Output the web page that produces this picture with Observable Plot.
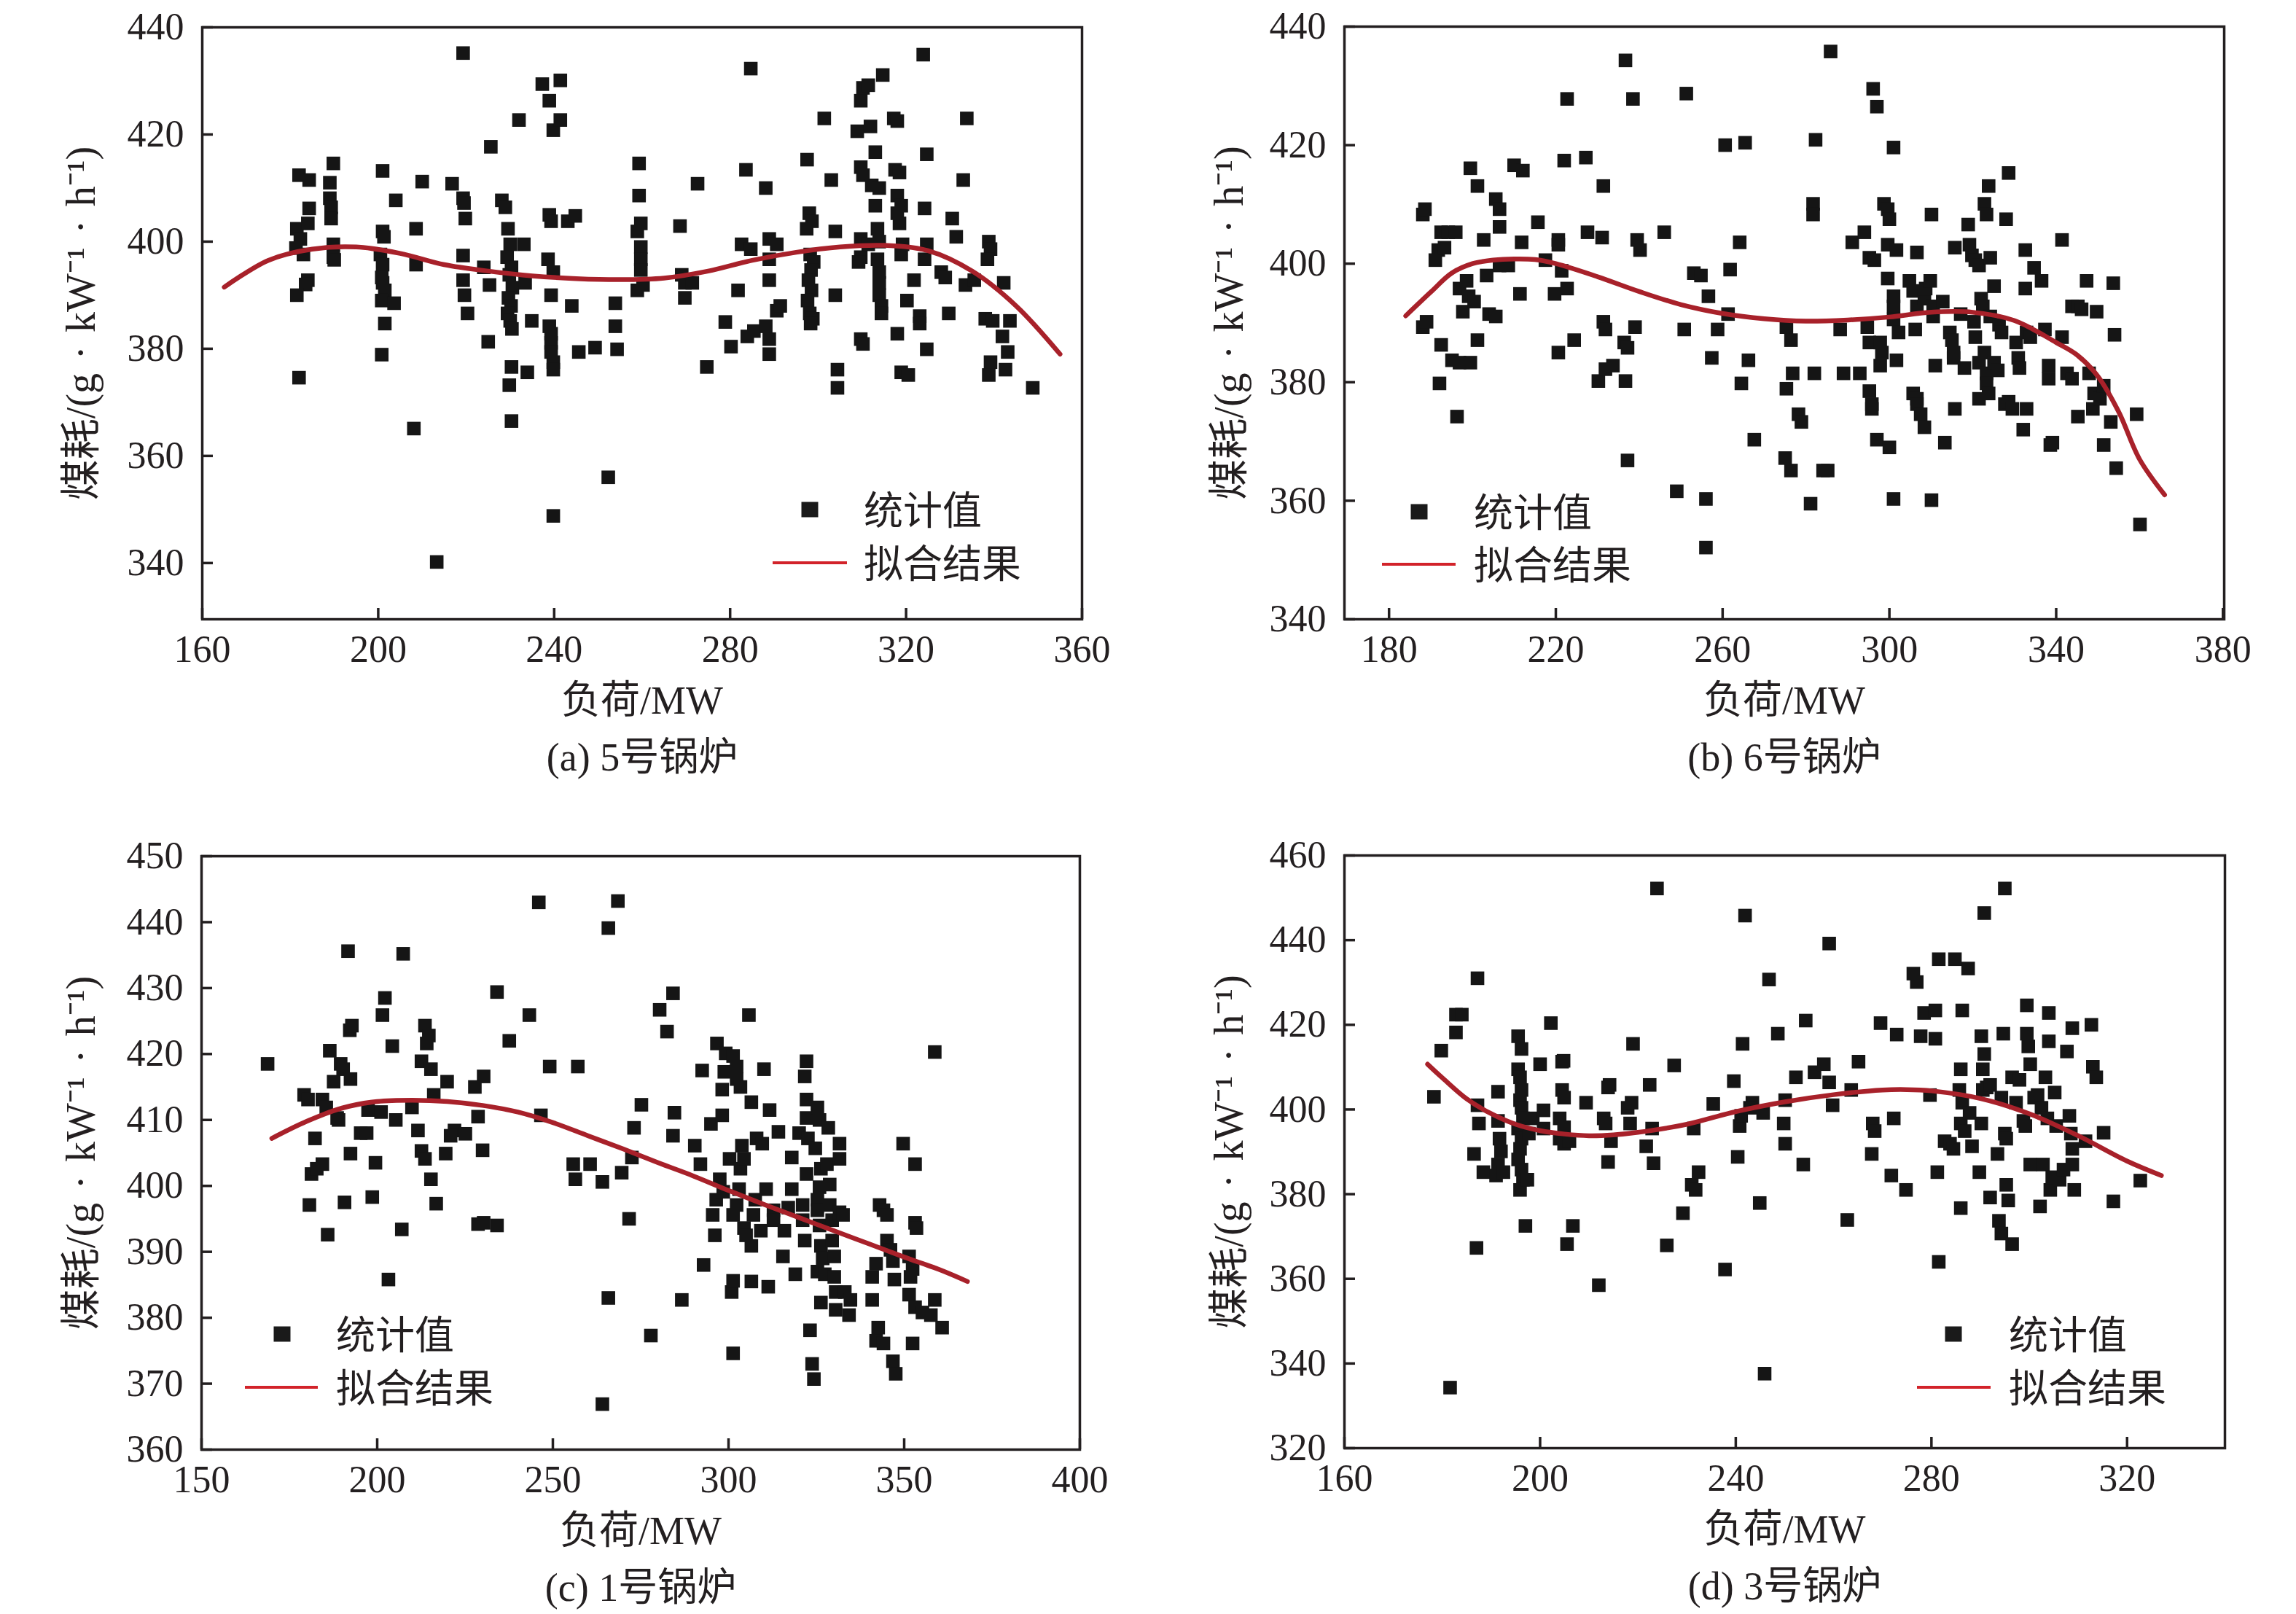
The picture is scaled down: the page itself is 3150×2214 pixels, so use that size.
<!DOCTYPE html>
<html><head><meta charset="utf-8">
<script src="https://cdn.jsdelivr.net/npm/d3@7"></script>
<script src="https://cdn.jsdelivr.net/npm/@observablehq/plot@0.6"></script>
<style>
html,body{margin:0;padding:0;background:#fff;}
#page{position:relative;width:3150px;height:2214px;background:#fff;overflow:hidden;color:#231f20;font-family:"Liberation Serif","Noto Sans CJK SC",serif;}
.panel{position:absolute;width:1575px;height:1107px;}
.panel svg text{font-family:"Liberation Serif","Noto Sans CJK SC",serif !important;}
.lg-sq{position:absolute;width:23px;height:21px;background:#1a1a1a;transform:translate(-50%,-50%);}
.lg-line{position:absolute;height:4px;background:#d2232a;transform:translateY(-50%);}
.lg-txt{position:absolute;font-family:"Noto Sans CJK SC",sans-serif;font-size:54px;line-height:1;white-space:nowrap;transform:translateY(-50%);color:#231f20;}
</style></head><body><div id="page"></div>
<script>
// ---------- data: (load MW, coal consumption g/kWh) ----------
const pointsA = [[182,412.4],[184.3,411.5],[181.5,402.4],[182.3,400.5],[181.3,398.8],[183,397.6],[184.3,406.2],[184,403.4],[184,392.8],[183.5,392],[181.5,390],[182,374.6],
[189.8,414.6],[189,411],[189,408.1],[189.3,406.4],[189.3,404.3],[189.8,399.5],[189.8,397.1],[190,396.6],
[201,413.2],[201,401.9],[201.3,400.9],[200.5,397.6],[201,395.7],[200.8,393.3],[201,392.3],[201.5,390.9],[200.8,389],[201.5,384.7],[200.8,378.9],
[203.6,388.5],[204,407.7],[208.6,402.4],[208.6,395.7],[208.1,365.1],[210,411.2],[213.3,340.2],
[216.8,410.8],[219.3,435.2],[219.3,408.1],[219.5,407.2],[219.8,404.3],[219.3,397.4],[219.3,392.8],[219.6,390],[220.3,386.6],[224,395.2],[225.3,391.9],[225,381.3],[225.6,417.7],[228.1,407.7],[228.9,406.4],
[229.5,402.4],[230,399.5],[229.3,397.1],[230.3,395.2],[229.8,393.8],[230.5,391.4],[229.6,389.5],[230.2,388],[229.4,386.6],[230,385.2],[230.4,383.7],[230.3,376.6],[229.8,373.2],[230.3,366.5],
[232,422.7],[233.1,399.5],[233.4,392.3],[233.9,375.6],[234.9,385.2],
[237.3,429.4],[238.9,426.3],[239.8,420.8],[241.4,430.1],[241.4,422.7],[238.9,405],[239.3,403.8],[238.6,396.7],[239.8,394.3],[239.3,390],[238.9,384.2],[239.3,382.8],[239.3,381.1],[239.3,379.4],[239.8,377.5],[239.8,376.1],[239.8,348.8],[243.1,403.8],[244.8,404.8],[244,388],[245.6,379.4],[249.3,380.2],
[252.3,356],[253.9,388.5],[253.9,384.2],[254.3,379.9],
[259.3,414.6],[259.3,408.6],[259.7,403.4],[258.9,401.9],[259.7,399],[259.7,396.7],[259.7,394.7],[258.9,390.9],[260.2,391.9],
[268.6,402.9],[269,393.8],[269.7,392.3],[269.7,389.5],[271.4,392.3],[272.6,410.8],[274.7,376.6],[278.9,385],[280.2,380.4],[281.8,390.9],[283.6,413.4],[282.6,399.5],[284.7,398.6],[284.7,432.3],[283.9,382.3],[285.4,383.3],[288.1,410],[288.9,400.5],[288.9,392.8],[288.9,396.7],[288.1,384.2],[288.9,381.8],[288.9,379],[290.6,387.1],[291.4,388],[290.6,399.5],
[297.5,415.3],[298,405.3],[298.6,403.8],[297.4,402.4],[298.2,397.6],[299,396.2],[298.4,394.7],[297.8,392.8],[298.5,390.9],[297.6,389],[298.1,386.6],[298.8,385.6],[298.3,384.7],
[301.4,423],[303,411.5],[303.9,401.9],[303.9,390],[304.4,376.1],[304.4,372.7],
[308.9,420.6],[309.7,426.3],[310.2,428.7],[311.4,429.2],[311.9,421.5],[314.7,431.1],[309.7,413.9],[310.2,412.4],[312.2,410.5],[313,416.7],[313.9,410],[313,406.7],[309.7,400.5],[309.7,397.1],[311.4,399.5],[313.5,402.4],[313.9,400],[313.5,396.7],[313.9,394.3],[313.9,392.3],[313.9,390],[314.4,388],[314.4,386.6],[309.7,381.8],[310.2,380.9],[309.2,396.2],
[317.2,423],[318,422.5],[317.5,413.4],[318.5,412.9],[318,408.6],[318.9,406.7],[318,405.3],[318.5,403.4],[319.2,399.5],[318.9,397.6],[318,382.8],[318.9,375.6],[320.5,375.1],[320.2,389],[321.8,392.8],[323.1,386.1],[323.1,384.7],[323.9,434.9],[324.2,406.2],[324.7,399.5],[324.2,396.7],[324.7,416.3],[324.7,379.9],[328,394.3],[328.9,393.3],
[329.7,386.6],[330.5,404.3],[331.4,400.9],[333.8,423],[333,411.5],[333.5,391.9],[335.5,392.8],
[338.8,400],[339.2,398.6],[338.5,396.7],[338,385.6],[339.7,385.2],[339.2,377.5],[338.8,375.1],[342.2,392.3],[341.9,382.3],[343.1,379.4],[342.6,376.1],[343.6,385.2],[348.8,372.7]];
const fitLoadA = [165,175,185,195,205,215,225,235,245,255,265,275,285,295,305,315,325,335,345,355];
const fitCoalA = [391.5,396.5,398.6,399,397.8,395.7,394.5,393.6,393.1,392.9,393.2,394.5,396.5,398,399,399.3,398.3,394.5,388,379];

const pointsB = [[188.1,408.3],[188.6,409.2],[188.1,389.3],[189,390.2],[191.1,400.6],[191.8,402.3],[192.5,405.3],[194.2,405.3],[193.3,402.7],[192.5,386.3],[192.1,379.8],[196,405.3],[195.1,383.7],[196.9,383.3],[199.5,383.3],[196.3,374.2],[196.9,395.8],[198.6,397.1],[199.1,394.5],[197.7,391.9],[200.4,393.6],[199.5,416.1],[201.2,413.1],[201.2,387.1],[202.7,404],[203.4,398],[204,391.5],[205.6,391.1],[205.6,410.9],[206.5,409.2],[206.5,406.2],[206.5,399.7],[208.6,399.7],[210,416.6],[212.1,415.7],[211.8,403.6],[211.4,394.9],[215.7,407],[217.5,400.6],[220.6,404],[220.6,403.2],[221.4,398.8],[222,417.4],[219.7,394.9],[222.7,395.8],[222.7,427.8],[220.6,385],[224.4,387.1],[227.2,417.9],[227.6,405.3],[231.1,404.4],[231.4,413.1],[231.4,390.2],[231.9,388.9],[230.2,380.2],[231.9,382.2],[233.7,382.8],[236.7,434.3],[238.5,427.8],[236.4,386.7],[237.2,385.8],[236.7,380.2],[237.2,366.8],[239.5,404],[240.2,402.3],[239,389.3],[246,405.3],[251.3,428.7],[250.8,388.9],[249,361.6],[253.1,398.4],[254.8,398],[256,360.3],[256,352.1],[256.6,394.5],[257.4,384.1],[258.8,388.9],[260.6,420],[261.3,391.5],[261.8,399],[264.5,379.8],[264.1,403.6],[265.4,420.4],[266.2,383.7],[267.6,370.3],[275.3,389.3],[276.4,387.1],[275.3,378.9],[275,367.2],[276.4,365.1],[276.8,381.5],[278.2,374.6],[278.9,373.3],[281.1,359.5],[282,381.5],[282.3,420.9],[281.7,410.1],[281.7,408.3],[284.1,365.1],[285.2,365.1],[285.9,435.8],[288.2,388.9],[289,381.5],[291.1,403.6],[292.9,381.5],[294,405.3],[294.7,389.3],[295.2,386.7],[295.2,378.5],[295.8,376.3],[295.8,375.5],[295.2,401],[296.4,400.6],[296.1,429.5],[297,426.5],[297,370.3],[297.8,386.7],[298.2,385],[297.8,382.8],[298.7,410.1],[299.6,409.2],[300,407.5],[299.6,403.2],[300,369],[301,419.6],[301,360.3],[301,392.8],[301,390.6],[301.7,383.7],[302.2,388.4],[301.7,402.3],[299.6,397.5],[301,394.5],[304.8,397.1],[305.7,395.4],[305.7,378.1],[306.6,377.2],[306.6,376.3],[307.5,374.6],[308.4,372.4],[306.2,388.9],[306.6,392.8],[306.6,401.9],[308.4,394.1],[308.7,395.8],[309.8,397.1],[310.1,408.3],[310.5,392.8],[310.5,391.1],[311,382.8],[312.8,393.6],[313.3,369.8],[310.1,360.1],[314.5,388.4],[315,387.1],[315.4,385],[315.4,384.1],[315.7,375.5],[315.7,402.7],[317.1,391.5],[318,382.4],[318.9,406.6],[319.2,403.2],[319.8,401.4],[320.6,400.6],[321.5,399.7],[320.3,390.2],[320.6,387.6],[321.5,383.3],[321.5,377.2],[322,394.1],[322.4,392.8],[322.8,385],[323.3,381.5],[323.3,379.8],[323.8,378.1],[324.2,391.1],[322.8,410.1],[323.3,408.3],[323.8,413.1],[325.1,396.2],[324.2,401],[325.1,383.3],[326,382],[326.3,389.7],[326.9,388.4],[327.7,376.3],[328,407.5],[328.6,415.3],[328.6,376.7],[329.5,375.5],[330.4,386.7],[330.9,384.1],[331.2,382.4],[332.1,372],[332.6,402.3],[332.9,375.5],[332.6,395.8],[332.9,388.4],[333.8,387.6],[334.7,399.3],[336.5,397.1],[337.3,388.9],[338.2,382.8],[338.2,380.6],[338.6,369.4],[339.1,369.8],[341.4,404],[341.4,387.6],[342.6,381.5],[343.8,380.6],[343.8,392.8],[345.2,392.8],[346.1,392.3],[345.2,374.2],[347.3,397.1],[347.9,381.5],[348.8,375.5],[349.1,378.1],[349.7,391.9],[350.5,377.2],[351.4,369.4],[351.4,379.4],[353.1,373.3],[353.7,396.7],[354,388],[354.4,365.5],[359.3,374.6],[360.1,356]];
const fitLoadB = [184,190,195,200,205,210,215,220,230,240,250,260,270,280,290,300,310,320,330,340,345,350,355,360,366];
const fitCoalB = [391.2,395.2,398.4,400,400.6,400.8,400.7,400,397.8,395.3,393.1,391.6,390.7,390.3,390.5,391,391.8,391.8,390.4,386.7,384.6,381,375,367,361];

const pointsC = [[168.8,418.5],[179.2,413.8],[180.3,413.1],[184.4,413.1],[185.5,411.9],[182.3,407.2],[181.3,401.8],[182.8,402.6],[184.4,403.3],[180.7,397.1],[186.5,420.5],[187.6,415.8],[188.6,410.3],[189,410],[189.6,418.5],[190.3,417.7],[192.4,416.2],[192.2,423.6],[192.8,424.3],[191.7,435.6],[192.4,404.9],[190.7,397.5],[185.9,392.6],[195.3,408],[197,408],[197.4,411.5],[199.5,403.5],[198.6,398.3],[201.1,411.2],[202.2,428.5],[201.5,425.9],[204.3,421.2],[205.3,410],[207,393.4],[203.2,385.8],[207.4,435.2],[209.9,411.9],[211.6,408.4],[212.6,418.9],[213.6,424.3],[214.7,422.8],[214.1,421.6],[215.3,417.7],[212.6,405.3],[213.6,404.1],[215.3,401],[216.1,413.8],[216.8,397.3],[219.9,415.8],[219.5,404.9],[222,408.4],[220.9,407.6],[225.1,407.9],[227.8,415],[230.3,416.6],[228.7,410.5],[230,405.4],[228.7,394.2],[230.3,394.4],[234.1,394],[234.1,429.4],[237.6,422],[243.3,425.9],[246,443],[246.6,410.7],[249.1,418.1],[257.1,418.1],[255.8,403.3],[256.4,401],[260.6,403.3],[264.1,400.6],[265.8,439.1],[265.8,383],[268.5,443.2],[264.1,366.9],[269.6,402],[271.7,395],[272.5,404.3],[273.1,408.8],[275.2,412.3],[277.9,377.3],[280.4,426.7],[282.5,423.4],[284.2,429.2],[284.6,411.1],[284.2,407.6],[286.7,382.7],[290.4,406.1],[292.9,388],[292.5,417.5],[292,403.3],[295,409.4],[296.7,421.6],[298.2,410.7],[298.2,414.6],[298.8,417.3],[299.2,420.1],[301.3,419.7],[302.3,418.1],[302.3,416.2],[303.4,415],[295.5,395.6],[296.1,392.5],[296.5,397.9],[297.5,401],[298.5,399.1],[300.3,404.1],[300.9,383.9],[301.3,385.6],[301.3,374.6],[301.3,395.6],[302.3,397.1],[303,399.5],[303.4,402.6],[303.8,406.1],[304.4,404.1],[304.4,393.6],[305,392.5],[305.8,425.9],[306.5,412.7],[306.5,385.5],[306.5,390.9],[307.1,395.6],[307.6,397.9],[308,407.2],[309.6,406.4],[309.2,393.2],[310.7,399.5],[311.3,384.7],[310.1,417.7],[311.7,411.5],[312.8,396.3],[312.8,394.8],[314.2,408.2],[315.5,389.3],[315.9,393.2],[317,396.7],[318,399.5],[318,404.3],[319,386.6],[320.1,408],[321.1,397.1],[321.1,394.8],[321.7,391.7],[322.2,418.9],[321.7,416.6],[322.2,413.1],[322.2,410.3],[322.6,407.2],[322.2,401.8],[323.2,378.1],[323.8,373],[324.3,370.7],[325.3,411.9],[325.9,410],[324.7,405.7],[326.3,402.6],[325.9,399.8],[325.3,397.9],[325.3,396.3],[325.9,394],[326.3,390.9],[326.8,389],[325.3,387],[327.4,386.6],[328.4,408.8],[328,403.3],[328.8,400.2],[328.8,397.1],[329.5,394.8],[329.5,391.7],[330.1,389.3],[330.1,386.2],[330.5,383.9],[331.6,406.4],[331.6,404.1],[331.6,396],[332.6,395.6],[326.3,382.3],[330.5,381.2],[333.1,383.9],[334.3,380.4],[334.7,382.7],[340.9,382.7],[340.9,386.2],[342,388.2],[342,376.5],[344.1,376.1],[342.6,378.5],[343,397.1],[344.1,396.3],[345.1,395.6],[345.1,391.7],[346.1,390.3],[346.8,388.6],[347.2,385.8],[346.8,373.4],[347.6,371.5],[349.7,406.4],[351.4,389.3],[351.4,383.5],[351.8,386.2],[352.4,387.4],[353.1,394.4],[353.5,393.6],[353.1,403.3],[352.4,376.1],[353.1,381.6],[355.2,380.8],[357.6,380.4],[358.7,382.7],[358.7,420.3],[360.8,378.5]];
const fitLoadC = [170,180,190,200,210,220,230,240,250,260,270,280,290,300,310,320,330,340,350,360,368];
const fitCoalC = [407.2,409.8,411.8,412.8,413,412.8,412.2,411.2,409.6,407.6,405.6,403.5,401.5,399.3,397.2,395.2,393.2,391.2,389.2,387.3,385.5];

const pointsD = [[178.3,403],[179.8,413.9],[181.6,334.3],[182.8,422.4],[184,422.4],[182.8,418.2],[186.5,389.5],[187,367.3],[187.2,431],[187.2,401],[187.5,396.7],[188.4,385.2],[191.4,404.2],[191.4,397.3],[191.7,393.1],[192,390.1],[191.4,387],[191,384.4],[192.5,385.2],[195.5,417.3],[196.2,414.3],[195.5,409.5],[195.9,407.6],[196.2,404.6],[195.9,402.2],[196.2,400.4],[196.5,397.9],[195.5,395.5],[196.2,393.1],[195.9,390.7],[195.5,388.2],[196.2,385.8],[196.5,383.4],[195.9,381],[197.4,383.4],[197,372.5],[197.7,394.3],[198.5,397.9],[200.7,399.8],[200,410.7],[200.7,395.5],[202.2,420.4],[204.5,411.3],[204.8,411.5],[204.5,404.6],[204.9,402.8],[204,397.9],[204.9,395.8],[204,393.1],[204.9,391.9],[206,392.5],[205.5,368.2],[206.7,372.5],[209.4,401.6],[212,358.5],[213,397.9],[213.4,396.7],[214.2,405.8],[213.9,405.2],[214.5,392.5],[213.9,387.6],[217.9,400.4],[218.4,396.7],[219,415.5],[218.7,401.6],[221.7,391.3],[222.9,395.5],[223.2,387.3],[222.4,405.8],[223.9,452.2],[225.9,367.9],[227.4,410.4],[229.2,375.5],[231.4,395.5],[231,382.2],[231.8,381],[232.4,385.2],[235.4,401.3],[237.8,362.2],[239.6,406.7],[240.4,388.8],[240.8,396.1],[241.1,398.5],[241.4,415.5],[241.9,445.8],[243.4,401.6],[242.9,400.4],[244.9,377.9],[245.9,337.6],[246.8,430.7],[245.6,399.2],[248.6,417.9],[249.8,396.7],[250.1,391.9],[250.1,402.2],[252.3,407.6],[253.8,387],[254.3,421],[256.1,408.8],[258,410.7],[259.1,406.4],[259.1,439.2],[259.8,401],[262.8,373.9],[263.6,404.6],[265.1,411.3],[268,396.7],[268.4,394.9],[267.8,389.5],[269.6,420.4],[271.8,384.4],[272.3,397.9],[272.9,417.7],[274.8,381],[276.3,432.1],[277,430.1],[277.8,417.3],[278.5,422.8],[279.7,403.4],[280.8,423.4],[280.8,416.7],[281.5,435.5],[281.2,385.2],[281.5,364],[282.7,392.5],[283.8,391.9],[284.5,390.7],[284.8,435.5],[285.7,404.6],[286,409.5],[286.3,401.6],[286,396.7],[286.8,394.9],[286,376.7],[286.3,423.4],[287.5,433.3],[287.8,399.2],[288.3,391.3],[289.8,385.2],[290.2,396.7],[290.5,404.6],[290.5,409.5],[290.2,417.3],[290.8,413.1],[290.8,446.4],[291.3,405.2],[292,405.8],[292,379.2],[293.5,389.5],[293.8,373.7],[294.3,370.7],[294.7,417.9],[295,452.2],[294.3,402.8],[295,394.3],[295.3,393.1],[295.7,378.5],[295.3,382.2],[296.5,368.2],[296.5,407.6],[298,407],[297.3,401.6],[298.8,397.3],[299.2,396.1],[299.5,424.6],[299.5,417.9],[299.8,414.9],[300.2,410.7],[301,402.8],[300.2,387],[301.7,403.4],[302.2,377.1],[302.8,387],[302.5,400.4],[303.7,397.9],[303.3,407.6],[304,416.1],[304,422.8],[304.3,381],[304.7,384],[305.2,404],[305.5,396.1],[306.2,383.4],[307,385.8],[307.7,413.7],[308.2,398.5],[308.5,394.3],[308.8,390.7],[308.8,387],[309.2,381],[308.8,419.2],[311.5,392.5],[312.7,420],[313,410.1],[313.7,407.6],[315.2,394.5],[317.2,378.3],[322.7,383.2]];
const fitLoadD = [177,180,185,190,195,200,205,210,215,220,230,240,250,260,270,275,280,290,300,310,320,327];
const fitCoalD = [410.7,407.5,402.5,399,396.5,395,394.2,393.8,394,394.6,396.5,399.5,401.8,403.5,404.6,404.7,404.4,402.6,399,393.8,387.8,384.4];

const ticksX_A = [160,200,240,280,320,360];
const ticksY_A = [340,360,380,400,420,440];
const ticksX_B = [180,220,260,300,340,380];
const ticksY_B = [340,360,380,400,420,440];
const ticksX_C = [150,200,250,300,350,400];
const ticksY_C = [360,370,380,390,400,410,420,430,440,450];
const ticksX_D = [160,200,240,280,320];
const ticksY_D = [320,340,360,380,400,420,440,460];

const captions = ["(a) 5号锅炉","(b) 6号锅炉","(c) 1号锅炉","(d) 3号锅炉"];
const xLabel = "负荷/MW";
const yLabel = "煤耗/(g\u2004·\u2004kW\u207B\u00B9\u2004·\u2004h\u207B\u00B9)";
const legendLabels = ["统计值","拟合结果"];

// ---------- layout ----------
const FONT = '"Liberation Serif","Noto Sans CJK SC",serif';
const INK = "#231f20";
const panels = [
  {left:0, top:0, m:{top:37,right:91,bottom:258,left:277}, xd:[160,360], yd:[329.5,440], xt:ticksX_A, yt:ticksY_A, pts:pointsA, fx:fitLoadA, fy:fitCoalA, cap:captions[0],
   lg:{sq:[1111,699], tx:1185, line:[1060,1162,772]}},
  {left:1575, top:0, m:{top:36,right:99,bottom:258,left:269}, xd:[169.3,380.3], yd:[340,440], xt:ticksX_B, yt:ticksY_B, pts:pointsB, fx:fitLoadB, fy:fitCoalB, cap:captions[1],
   lg:{sq:[1947,702], tx:2022, line:[1896,1997,774]}},
  {left:0, top:1107, m:{top:67,right:94,bottom:226,left:276}, xd:[150,400], yd:[360,450], xt:ticksX_C, yt:ticksY_C, pts:pointsC, fx:fitLoadC, fy:fitCoalC, cap:captions[2],
   lg:{sq:[387,1830], tx:461, line:[336,436,1903]}},
  {left:1575, top:1107, m:{top:66,right:98,bottom:228,left:269}, xd:[160,340], yd:[320,460], xt:ticksX_D, yt:ticksY_D, pts:pointsD, fx:fitLoadD, fy:fitCoalD, cap:captions[3],
   lg:{sq:[2680,1830], tx:2756, line:[2630,2731,1903]}}
];

const page = document.getElementById("page");
for (const p of panels) {
  const fit = p.fx.map((x, i) => ({x, y: p.fy[i]}));
  const chart = Plot.plot({
    width: 1575, height: 1107,
    marginTop: p.m.top, marginRight: p.m.right, marginBottom: p.m.bottom, marginLeft: p.m.left,
    style: {fontFamily: FONT, color: INK, background: "transparent", overflow: "visible"},
    x: {domain: p.xd},
    y: {domain: p.yd},
    marks: [
      Plot.dot(p.pts, {x: d => d[0], y: d => d[1], symbol: "square", r: 10.5, fill: "#151515", stroke: "none"}),
      Plot.line(fit, {x: "x", y: "y", curve: "catmull-rom", stroke: "#a8212a", strokeWidth: 6.5}),
      Plot.frame({stroke: INK, strokeWidth: 3.5}),
      Plot.axisX({ticks: p.xt, tickFormat: d => String(d), tickSize: -15, tickPadding: 37, strokeWidth: 3.5, fontSize: 52, fontFamily: FONT, label: null, fill: INK}),
      Plot.axisY({ticks: p.yt, tickFormat: d => String(d), tickSize: -15, tickPadding: 40, strokeWidth: 3.5, fontSize: 52, fontFamily: FONT, label: null, fill: INK}),
      Plot.text([xLabel], {text: d => d, frameAnchor: "bottom", dy: 112, fontSize: 54, fontFamily: FONT, lineAnchor: "middle", fill: INK}),
      Plot.text([p.cap], {text: d => d, frameAnchor: "bottom", dy: 190, fontSize: 54, fontFamily: FONT, lineAnchor: "middle", fill: INK}),
      Plot.text([yLabel], {text: d => d, frameAnchor: "left", dx: 112 - p.m.left, dy: 0, rotate: -90, fontSize: 56, fontFamily: FONT, lineAnchor: "middle", textAnchor: "middle", fill: INK})
    ]
  });
  const div = document.createElement("div");
  div.className = "panel";
  div.style.left = p.left + "px";
  div.style.top = p.top + "px";
  div.appendChild(chart);
  page.appendChild(div);

  // legend
  const sq = document.createElement("div");
  sq.className = "lg-sq";
  sq.style.left = p.lg.sq[0] + "px"; sq.style.top = p.lg.sq[1] + "px";
  page.appendChild(sq);
  const t1 = document.createElement("div");
  t1.className = "lg-txt"; t1.textContent = legendLabels[0];
  t1.style.left = p.lg.tx + "px"; t1.style.top = (p.lg.sq[1] - 2) + "px";
  page.appendChild(t1);
  const ln = document.createElement("div");
  ln.className = "lg-line";
  ln.style.left = p.lg.line[0] + "px"; ln.style.width = (p.lg.line[1] - p.lg.line[0]) + "px"; ln.style.top = p.lg.line[2] + "px";
  page.appendChild(ln);
  const t2 = document.createElement("div");
  t2.className = "lg-txt"; t2.textContent = legendLabels[1];
  t2.style.left = p.lg.tx + "px"; t2.style.top = (p.lg.line[2] - 2) + "px";
  page.appendChild(t2);
}
</script>
</body></html>
